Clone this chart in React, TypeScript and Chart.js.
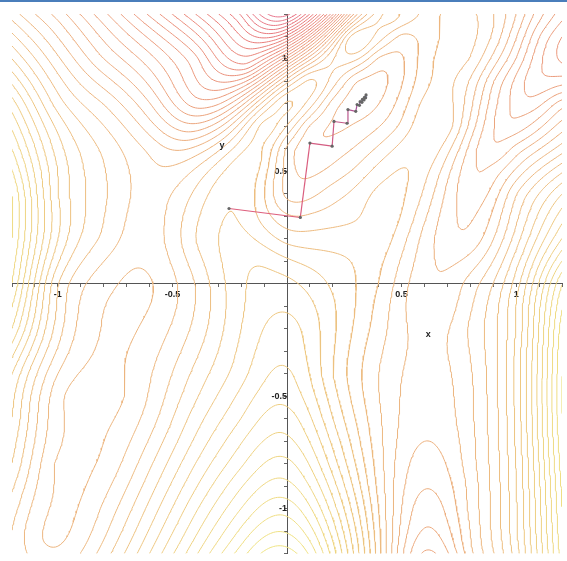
import { useEffect, useRef } from 'react';
import { Chart, registerables } from 'chart.js';

Chart.register(...registerables);

// Surface readings (contour-level units) on a coarse grid
const GRID_X = [-1.2, -1.0, -0.8, -0.6, -0.4, -0.2, 0.0, 0.2, 0.4, 0.6, 0.8, 1.0, 1.2];
const GRID_Y = [1.2, 1.0, 0.8, 0.6, 0.4, 0.2, 0.0, -0.2, -0.4, -0.6, -0.8, -1.0, -1.2];
const GRID_Z: number[][] = [
  [23.5, 20.6, 17.3, 13.8, 10, 6, 1.5, 12.5, 24.5, 23.8, 24.2, 21, 16.5],
  [27, 23.2, 20, 17.4, 14.4, 10.5, 16, 24, 21.6, 23.6, 24, 19, 14.8],
  [30.5, 25.5, 23, 20.1, 16.5, 19.5, 26.4, 21.4, 21.0, 24.3, 22.3, 17.8, 19.7],
  [33, 27.5, 24.8, 22.8, 22.3, 25.6, 22.6, 21.5, 23.2, 24.9, 20.6, 20.5, 23.5],
  [35, 28, 25.2, 23.6, 25.2, 26.9, 22.6, 23.6, 25.3, 23.8, 20.4, 24, 28],
  [35, 28, 24.8, 23.5, 26, 27.3, 25.6, 25.5, 25.6, 22.6, 21.3, 25.5, 31],
  [34, 26, 23.4, 22.9, 25, 27.8, 28.3, 26.8, 25, 22.2, 23.5, 27.5, 35],
  [32, 25.5, 22.95, 23.3, 25.3, 28, 29.4, 27.2, 24.5, 22.6, 24.2, 28, 36.5],
  [29, 24, 22.8, 23.9, 26.3, 28.6, 30.2, 27, 24, 22.6, 23.9, 28.3, 37],
  [28, 23.3, 22.8, 24.5, 27.5, 30, 31.5, 28, 24.2, 22.3, 23.8, 28.2, 37],
  [27, 22.8, 23.2, 25.8, 29, 31.8, 33.3, 29.5, 24.5, 21.5, 23.6, 28, 36.5],
  [25.5, 22.8, 24.2, 27.3, 30.8, 34, 35.6, 31.5, 25, 20.4, 23.3, 27.8, 36],
  [25, 23.2, 25.5, 29, 32.8, 36.5, 38.5, 33.5, 25.5, 18.8, 22.8, 27.5, 35.5],
];

// Extra readings at features (valley floors, rings, saddles, ridge crests)
const EXTRA_X = [
  0.1, 0.3, 0.3, 0.35, 0.5, 0.5, 0.1, 0.3, 0.5, 0.1, 0.3, 0.1, -0.1, -0.1, -0.1, 0.5, 0.7, 0.7, 0.7, 0.7,
  0.9, 0.9, 0.9, 0.9, 1.1, 1.1,
  0.63, 0.755, 0.83, 0.9, 0.97, 1.05,
  0.63, 0.62,
  -0.66, -0.72, -0.78, -0.85, -0.92, -0.99, -1.07, -0.7, -0.98,
  -0.6, -0.55, -0.43, -0.3, -0.18, -0.05,
  -0.27, -0.15, 0.28, 0.45, -0.12, -0.06, -0.02,
  0.45, 0.3, 0.3,
  0.62, 1.3, 0.02, 0.0, 1.35,
];
const EXTRA_Y = [
  0.5, 0.7, 0.9, 0.84, 0.9, 1.1, 0.7, 0.5, 0.7, 0.9, 1.1, 0.3, 0.5, 0.7, 0.3, 0.5, 0.9, 1.1, 0.7, 0.5,
  0.7, 0.9, 1.1, 0.5, 0.9, 1.1,
  -0.09, 0.24, 0.46, 0.6, 0.72, 0.82,
  -0.4, -0.7,
  0.06, -0.2, -0.4, -0.6, -0.8, -1.0, -1.14, -0.5, -0.5,
  0.3, 0.52, 0.655, 0.81, 0.97, 1.13,
  0.3, 0.55, 1.08, 1.2, 0.1, -0.1, -0.3,
  0.3, 0.3, 0.1,
  -1.35, 1.05, 1.3, -1.35, -0.4,
];
const EXTRA_Z = [
  21.8, 21.2, 20.9, 20.5, 21.9, 22.5, 21.7, 23.2, 23.2, 25.5, 25.9, 24.2, 25.4, 26.6, 25.5, 25.1, 24.2, 24.2, 24.6, 22.3,
  19.1, 20, 22.8, 20.5, 16.2, 17,
  22, 21, 20, 19, 18, 17,
  22.55, 22,
  22.95, 22.8, 22.78, 22.78, 22.78, 22.8, 23.0, 23.05, 23.05,
  23.5, 23, 20.5, 16.5, 11, 5,
  27, 26.8, 26, 25.8, 27.9, 28.8, 29.7,
  25.5, 24.8, 25.9,
  17.5, 13.5, -2, 41, 43,
];

const CONTOUR_LEVELS = [
  1, 2, 3, 4, 5, 6, 7, 8, 9, 10, 11, 12, 13, 14, 15, 16, 17, 18, 19, 20, 21,
  22, 23, 24, 25, 26, 27, 28, 29, 30, 31, 32, 33, 34, 35, 36, 37, 38,
];

// Descent path
const PATH_X = [-0.253, 0.058, 0.1, 0.197, 0.205, 0.262, 0.266, 0.3, 0.306, 0.316, 0.319, 0.327, 0.329, 0.336, 0.338, 0.343, 0.345];
const PATH_Y = [0.335, 0.295, 0.626, 0.612, 0.722, 0.714, 0.775, 0.767, 0.797, 0.794, 0.81, 0.807, 0.82, 0.818, 0.829, 0.827, 0.84];

const TICK_LABEL_VALUES = [-1, -0.5, 0.5, 1];
const AXIS_LABELS = [
  { text: 'x', x: 0.616, y: -0.225 },
  { text: 'y', x: -0.284, y: 0.617 },
];

const X_MIN = -1.2;
const X_MAX = 1.2;
const Y_MIN = -1.2;
const Y_MAX = 1.2;
const COLOR_LOW = 1;
const COLOR_HIGH = 40;

type P = { x: number; y: number };

// smoothing thin-plate spline through the readings
function buildSurface() {
  const px: number[] = [];
  const py: number[] = [];
  const pz: number[] = [];
  GRID_Y.forEach((y, j) => GRID_X.forEach((x, i) => { px.push(x); py.push(y); pz.push(GRID_Z[j][i]); }));
  EXTRA_X.forEach((x, k) => { px.push(x); py.push(EXTRA_Y[k]); pz.push(EXTRA_Z[k]); });
  const n = px.length;
  const m = n + 3;
  const A: Float64Array[] = [];
  for (let i = 0; i < m; i++) A.push(new Float64Array(m + 1));
  const phi = (r2: number) => (r2 > 1e-12 ? 0.5 * r2 * Math.log(r2) : 0);
  const lambda = 0.0025;
  for (let i = 0; i < n; i++) {
    for (let j = 0; j < n; j++) {
      const dx = px[i] - px[j];
      const dy = py[i] - py[j];
      A[i][j] = phi(dx * dx + dy * dy) + (i === j ? lambda : 0);
    }
    A[i][n] = 1; A[i][n + 1] = px[i]; A[i][n + 2] = py[i];
    A[n][i] = 1; A[n + 1][i] = px[i]; A[n + 2][i] = py[i];
    A[i][m] = pz[i];
  }
  for (let c = 0; c < m; c++) {
    let piv = c;
    for (let r = c + 1; r < m; r++) if (Math.abs(A[r][c]) > Math.abs(A[piv][c])) piv = r;
    const tmp = A[c]; A[c] = A[piv]; A[piv] = tmp;
    const d = A[c][c];
    for (let r = c + 1; r < m; r++) {
      const fct = A[r][c] / d;
      if (fct === 0) continue;
      const rowR = A[r];
      const rowC = A[c];
      for (let k = c; k <= m; k++) rowR[k] -= fct * rowC[k];
    }
  }
  const w = new Float64Array(m);
  for (let r = m - 1; r >= 0; r--) {
    let s = A[r][m];
    for (let k = r + 1; k < m; k++) s -= A[r][k] * w[k];
    w[r] = s / A[r][r];
  }
  return (x: number, y: number) => {
    let s = w[n] + w[n + 1] * x + w[n + 2] * y;
    for (let i = 0; i < n; i++) {
      const dx = x - px[i];
      const dy = y - py[i];
      s += w[i] * phi(dx * dx + dy * dy);
    }
    return s;
  };
}

function buildContours(): P[][] {
  const surf = buildSurface();
  const N = 240;
  const xs: number[] = [];
  const ys: number[] = [];
  for (let k = 0; k <= N; k++) {
    xs.push(X_MIN + ((X_MAX - X_MIN) * k) / N);
    ys.push(Y_MIN + ((Y_MAX - Y_MIN) * k) / N);
  }
  const F = new Float64Array((N + 1) * (N + 1));
  for (let j = 0; j <= N; j++) for (let i = 0; i <= N; i++) F[j * (N + 1) + i] = surf(xs[i], ys[j]);
  const f = (i: number, j: number) => F[j * (N + 1) + i];

  const result: P[][] = [];
  for (const level of CONTOUR_LEVELS) {
    const pts = new Map<number, P>();
    const segs: [number, number][] = [];
    const hKey = (i: number, j: number) => (j * (N + 1) + i) * 2;
    const vKey = (i: number, j: number) => (j * (N + 1) + i) * 2 + 1;
    const edgePoint = (key: number, i0: number, j0: number, i1: number, j1: number) => {
      if (!pts.has(key)) {
        const a = f(i0, j0);
        const b = f(i1, j1);
        const t = b === a ? 0.5 : (level - a) / (b - a);
        pts.set(key, { x: xs[i0] + (xs[i1] - xs[i0]) * t, y: ys[j0] + (ys[j1] - ys[j0]) * t });
      }
      return key;
    };
    for (let j = 0; j < N; j++) {
      for (let i = 0; i < N; i++) {
        const v0 = f(i, j);
        const v1 = f(i + 1, j);
        const v2 = f(i + 1, j + 1);
        const v3 = f(i, j + 1);
        const code = (v0 > level ? 1 : 0) | (v1 > level ? 2 : 0) | (v2 > level ? 4 : 0) | (v3 > level ? 8 : 0);
        if (code === 0 || code === 15) continue;
        const B = () => edgePoint(hKey(i, j), i, j, i + 1, j);
        const T = () => edgePoint(hKey(i, j + 1), i, j + 1, i + 1, j + 1);
        const L = () => edgePoint(vKey(i, j), i, j, i, j + 1);
        const R = () => edgePoint(vKey(i + 1, j), i + 1, j, i + 1, j + 1);
        const center = (v0 + v1 + v2 + v3) / 4;
        switch (code) {
          case 1: case 14: segs.push([L(), B()]); break;
          case 2: case 13: segs.push([B(), R()]); break;
          case 3: case 12: segs.push([L(), R()]); break;
          case 4: case 11: segs.push([R(), T()]); break;
          case 6: case 9: segs.push([B(), T()]); break;
          case 7: case 8: segs.push([L(), T()]); break;
          case 5:
            if (center > level) { segs.push([B(), R()]); segs.push([L(), T()]); }
            else { segs.push([L(), B()]); segs.push([R(), T()]); }
            break;
          case 10:
            if (center > level) { segs.push([L(), B()]); segs.push([R(), T()]); }
            else { segs.push([B(), R()]); segs.push([L(), T()]); }
            break;
        }
      }
    }
    const adj = new Map<number, number[]>();
    segs.forEach((s, idx) => {
      for (const k of s) {
        const arr = adj.get(k);
        if (arr) arr.push(idx); else adj.set(k, [idx]);
      }
    });
    const used = new Uint8Array(segs.length);
    const data: P[] = [];
    const walk = (startKey: number, line: number[]) => {
      let key = startKey;
      for (;;) {
        const cand = (adj.get(key) || []).find((s) => !used[s]);
        if (cand === undefined) break;
        used[cand] = 1;
        const s = segs[cand];
        key = s[0] === key ? s[1] : s[0];
        line.push(key);
      }
    };
    for (let s = 0; s < segs.length; s++) {
      if (used[s]) continue;
      used[s] = 1;
      const fwd: number[] = [segs[s][1]];
      walk(segs[s][1], fwd);
      const back: number[] = [segs[s][0]];
      walk(segs[s][0], back);
      const line = back.reverse().concat(fwd);
      for (const k of line) data.push(pts.get(k)!);
      data.push({ x: NaN, y: NaN });
    }
    result.push(data);
  }
  return result;
}

function levelColor(level: number): string {
  const t = Math.max(0, Math.min(1, (level - COLOR_LOW) / (COLOR_HIGH - COLOR_LOW)));
  const hue = (345 + 72 * Math.pow(t, 0.85)) % 360;
  return `hsl(${hue.toFixed(1)}, ${(70 + 8 * t).toFixed(1)}%, ${(69 + 4 * t).toFixed(1)}%)`;
}

function pathColor(k: number): string {
  const t = Math.min(1, k / (PATH_X.length - 2));
  const w = Math.pow(t, 1.4);
  const r = Math.round(222 + (60 - 222) * w);
  const g = Math.round(95 + (60 - 95) * w);
  const b = Math.round(125 + (205 - 125) * w);
  return `rgb(${r},${g},${b})`;
}

export default function App() {
  const ref = useRef<HTMLCanvasElement | null>(null);
  useEffect(() => {
    if (!ref.current) return;
    const contours = buildContours();
    const datasets: any[] = contours.map((d, idx) => ({
      data: d,
      showLine: true,
      borderColor: levelColor(CONTOUR_LEVELS[idx]),
      borderWidth: 1,
      pointRadius: 0,
      spanGaps: false,
      tension: 0,
      order: 2,
    }));
    datasets.push({
      data: PATH_X.map((x, i) => ({ x, y: PATH_Y[i] })),
      showLine: true,
      borderColor: '#d85a78',
      borderWidth: 1.2,
      pointRadius: 1.6,
      pointBackgroundColor: '#666',
      pointBorderWidth: 0,
      segment: { borderColor: (c: any) => pathColor(c.p0DataIndex) },
      order: 1,
    });

    const labelPlugin = {
      id: 'axisLabels',
      afterDraw(chart: any) {
        const { ctx, scales } = chart;
        ctx.save();
        ctx.fillStyle = '#222';
        ctx.font = 'bold 9px "Liberation Sans", Arial, sans-serif';
        ctx.textAlign = 'center';
        ctx.textBaseline = 'middle';
        for (const l of AXIS_LABELS) {
          ctx.fillText(l.text, scales.x.getPixelForValue(l.x), scales.y.getPixelForValue(l.y));
        }
        ctx.restore();
      },
    };

    const tickCb = (v: any) => {
      const n = Number(v);
      const hit = TICK_LABEL_VALUES.find((t) => Math.abs(t - n) < 1e-6);
      return hit === undefined ? '' : String(hit);
    };
    const tickFont = { family: '"Liberation Sans", Arial, sans-serif', size: 9, weight: 'bold' as const };

    const chart = new Chart(ref.current, {
      type: 'scatter',
      data: { datasets },
      options: {
        animation: false,
        responsive: false,
        maintainAspectRatio: false,
        parsing: false,
        layout: { padding: { left: 12, right: 5, top: 12, bottom: 5 } },
        plugins: { legend: { display: false }, tooltip: { enabled: false } },
        scales: {
          x: {
            type: 'linear',
            min: X_MIN,
            max: X_MAX,
            position: { y: 0 } as any,
            ticks: { stepSize: 0.1, autoSkip: false, maxRotation: 0, callback: tickCb, color: '#222', font: tickFont, padding: 2 },
            grid: { drawOnChartArea: false, drawTicks: true, tickLength: 3, color: '#666' },
            border: { display: true, color: '#555', width: 1 },
          },
          y: {
            type: 'linear',
            min: Y_MIN,
            max: Y_MAX,
            position: { x: 0 } as any,
            ticks: { stepSize: 0.1, autoSkip: false, callback: tickCb, color: '#222', font: tickFont, padding: 2 },
            grid: { drawOnChartArea: false, drawTicks: true, tickLength: 3, color: '#666' },
            border: { display: true, color: '#555', width: 1 },
          },
        },
      },
      plugins: [labelPlugin],
    });
    return () => chart.destroy();
  }, []);

  return (
    <div style={{ position: 'absolute', left: 0, top: 0, width: 567, height: 561, background: '#fff', borderTop: '2px solid #4a7ebb', boxSizing: 'border-box' }}>
      <canvas ref={ref} width={567} height={559} style={{ display: 'block' }} />
    </div>
  );
}
